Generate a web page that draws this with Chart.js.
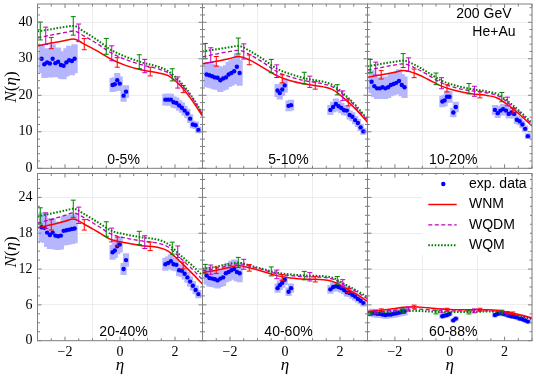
<!DOCTYPE html>
<html>
<head>
<meta charset="utf-8">
<script src="https://cdn.jsdelivr.net/npm/chart.js@4.4.0/dist/chart.umd.min.js"></script>
<style>
  html, body { margin: 0; padding: 0; background: #fff; }
  #wrap { position: relative; width: 536px; height: 377px; }
  #wrap canvas { position: absolute; left: 0; top: 0; }
</style>
</head>
<body>
<div id="wrap"></div>
<script>
'use strict';

// eta positions of the measured points
const etaBack = [-2.85, -2.75, -2.65, -2.55, -2.45, -2.35, -2.25, -2.15, -2.05, -1.95, -1.85, -1.75, -1.65];
const etaMid = [-0.27, -0.19, -0.1, -0.01, 0.13, 0.22];
const etaFwd = [1.65, 1.75, 1.85, 1.95, 2.05, 2.15, 2.25, 2.35, 2.45, 2.55, 2.65, 2.75, 2.85];

// eta grid of the model curves and where the model error bars sit
const etaModel = [-3, -2.5, -2, -1.7, -1.3, -0.8, -0.3, 0.2, 0.8, 1.4, 1.75, 2.2, 2.6, 3];
const etaBarsWNM = [-2.5, -1.3, -0.1, 1.1, 2.3];
const etaBarsWQDM = [-2.7, -1.5, -0.3, 0.9, 2.1];
const etaBarsWQM = [-2.9, -1.7, -0.5, 0.7, 1.9];

const centralities = ['0-5%', '5-10%', '10-20%', '20-40%', '40-60%', '60-88%'];

const xTicks = [-2, 0, 2];
const yTicksTop = [0, 10, 20, 30, 40];
const yTicksBottom = [0, 6, 12, 18, 24];

// exp. data, one row per centrality
const expBack = [
  [30.0, 28.5, 29.0, 28.7, 30.0, 28.8, 29.2, 28.3, 28.1, 29.0, 29.6, 29.4, 30.0],
  [25.7, 25.5, 25.2, 24.9, 24.8, 24.1, 24.6, 24.9, 25.7, 26.1, 26.6, 27.8, 26.1],
  [23.7, 22.5, 21.9, 21.9, 22.2, 21.9, 22.2, 22.8, 23.1, 23.4, 23.9, 22.8, 22.2],
  [19.0, 18.9, 18.1, 17.7, 18.1, 17.6, 17.5, 17.6, 18.4, 18.5, 18.6, 18.7, 18.8],
  [10.9, 10.5, 10.4, 10.3, 10.1, 10.4, 10.6, 11.3, 11.5, 11.8, 12.0, 11.5, 11.3],
  [4.7, 4.6, 4.5, 4.5, 4.4, 4.3, 4.4, 4.4, 4.5, 4.6, 4.7, 4.8, 4.9]
];
const expMid = [
  [22.8, 23.0, 24.1, 23.2, 19.9, 21.0],
  [21.3, 20.6, 21.6, 22.7, 17.1, 17.3],
  [18.3, 18.6, 19.6, 19.6, 15.3, 16.8],
  [14.8, 15.1, 15.8, 16.1, 12.0, 13.5],
  [8.8, 9.3, 9.7, 10.2, 8.2, 8.8],
  [4.1, 4.2, 4.3, 4.5, 3.4, 3.7]
];
const expFwd = [
  [18.8, 18.8, 18.8, 18.1, 17.9, 17.2, 16.6, 15.8, 15.0, 13.6, 12.0, 11.8, 10.5],
  [16.0, 16.8, 17.6, 17.0, 16.5, 15.9, 15.8, 14.6, 14.1, 13.2, 12.4, 11.2, 10.1],
  [16.0, 15.1, 15.8, 16.2, 15.8, 14.9, 15.3, 14.9, 13.3, 12.9, 12.0, 10.8, 8.8],
  [12.8, 13.0, 13.3, 12.8, 12.7, 11.8, 11.7, 11.2, 10.6, 9.9, 9.2, 8.5, 7.8],
  [8.6, 9.0, 9.1, 9.0, 8.8, 8.5, 8.1, 8.0, 7.7, 7.4, 7.0, 6.7, 6.3],
  [4.3, 4.5, 4.6, 4.5, 4.4, 4.2, 4.1, 4.0, 3.9, 3.7, 3.6, 3.4, 3.2]
];
// relative systematic uncertainty of the data (shaded boxes)
const sysBack = 0.13;
const sysMid = 0.08;
const sysFwd = 0.08;

// model curves on etaModel
const wnm = [
  [33.5, 34.3, 35.0, 35.4, 34.0, 32.0, 29.8, 28.2, 26.9, 26.1, 25.4, 22.6, 18.8, 14.3],
  [28.6, 29.3, 30.1, 30.6, 29.7, 27.6, 25.4, 24.0, 23.0, 22.3, 21.5, 18.8, 16.0, 12.6],
  [24.9, 25.6, 26.3, 26.8, 26.1, 24.4, 22.5, 21.3, 20.4, 19.9, 19.2, 16.9, 14.4, 11.6],
  [18.9, 19.4, 20.0, 20.4, 19.5, 18.2, 16.9, 16.4, 15.9, 15.6, 15.0, 13.2, 11.4, 9.5],
  [11.4, 11.8, 12.3, 12.6, 12.2, 11.6, 10.9, 10.5, 10.3, 10.2, 9.9, 8.8, 7.8, 6.6],
  [4.9, 5.1, 5.4, 5.6, 5.7, 5.5, 5.3, 5.2, 5.2, 5.2, 5.1, 4.7, 4.3, 3.8]
];
const wqdm = [
  [35.7, 36.5, 37.2, 37.6, 36.2, 34.0, 31.5, 29.8, 28.3, 27.2, 26.1, 23.2, 19.5, 14.8],
  [30.5, 31.3, 32.0, 32.3, 31.2, 29.0, 26.5, 25.0, 23.9, 23.1, 22.2, 19.6, 16.6, 13.1],
  [26.9, 27.6, 28.3, 28.6, 27.6, 25.6, 23.4, 22.1, 21.2, 20.6, 19.9, 17.5, 14.9, 12.1],
  [19.7, 20.3, 21.0, 21.4, 20.6, 19.2, 17.8, 17.2, 16.7, 16.3, 15.7, 13.8, 12.1, 10.2],
  [11.7, 12.1, 12.6, 12.9, 12.5, 11.9, 11.2, 10.9, 10.7, 10.6, 10.3, 9.2, 8.2, 7.0],
  [4.7, 4.9, 5.1, 5.3, 5.3, 5.2, 5.0, 5.0, 5.0, 5.0, 4.9, 4.6, 4.2, 3.7]
];
const wqm = [
  [37.5, 38.1, 38.7, 39.0, 37.4, 35.0, 32.3, 30.6, 29.0, 27.8, 26.6, 23.6, 19.8, 15.0],
  [32.0, 32.6, 33.2, 33.5, 32.2, 29.9, 27.3, 25.8, 24.5, 23.7, 22.7, 20.0, 17.0, 13.4],
  [27.9, 28.6, 29.2, 29.5, 28.4, 26.3, 24.0, 22.7, 21.7, 21.0, 20.3, 17.9, 15.3, 12.4],
  [20.8, 21.3, 21.8, 22.1, 21.2, 19.8, 18.4, 17.8, 17.3, 16.9, 16.2, 14.3, 12.7, 10.9],
  [12.0, 12.4, 12.9, 13.1, 12.6, 12.0, 11.4, 11.1, 10.9, 10.8, 10.5, 9.4, 8.4, 7.3],
  [4.5, 4.7, 4.9, 5.0, 5.0, 4.9, 4.8, 4.8, 4.8, 4.9, 4.8, 4.5, 4.1, 3.6]
];

// model values at the error bar positions
const wnmBars = [
  [34.3, 34.0, 29.0, 26.5, 21.7],
  [29.3, 29.7, 24.5, 22.7, 17.9],
  [25.6, 26.0, 21.9, 20.2, 15.8],
  [19.4, 19.4, 16.6, 15.8, 12.6],
  [11.8, 12.2, 10.6, 10.3, 8.4],
  [5.1, 5.7, 5.2, 5.2, 4.6]
];
const wqdmBars = [
  [36.3, 37.1, 31.5, 28.0, 23.5],
  [31.0, 32.0, 26.6, 23.7, 19.9],
  [27.3, 28.4, 23.3, 21.1, 18.3],
  [20.1, 21.0, 17.7, 16.5, 14.9],
  [11.9, 12.8, 11.1, 10.7, 9.6],
  [4.8, 5.3, 5.0, 5.0, 4.6]
];
const wqmBars = [
  [37.6, 39.0, 33.4, 29.2, 25.6],
  [32.1, 33.5, 28.0, 24.7, 21.5],
  [28.0, 29.5, 24.5, 21.8, 19.5],
  [20.9, 22.1, 18.7, 17.2, 15.5],
  [12.0, 13.1, 11.6, 10.9, 10.1],
  [4.5, 5.0, 4.8, 4.8, 4.8]
];
const relErrWNM = 0.045;
const relErrWQDM = 0.065;
const relErrWQM = 0.065;

// page layout
const W = 536, H = 377;
const colLeft = [37.5, 202.5, 367.5];
const colWidth = 165;
const rowTop = [1.8, 173.5];
const rowBottom = [168.3, 340.7];
const yMax = [45, 28];
const yMinor = [2, 1.5];
const xMinor = 0.5;

const RED = '#ff0000', MAGENTA = '#c000c0', GREEN = '#008000', BLUE = '#0000ff';
const BAND = '#b6b6ff';
const FRAME = '#808080';
const GRID = '#e8e8e8';
const SERIF = '"Liberation Serif", "DejaVu Serif", serif';
const SANS = '"Liberation Sans", Arial, sans-serif';

const wrap = document.getElementById('wrap');

function pts(xs, ys) {
  return xs.map((x, k) => ({ x: x, y: ys[k] }));
}

function boxes(xs, ys, s) {
  return xs.map((x, k) => ({ x: x, y: [ys[k] * (1 - s), ys[k] * (1 + s)] }));
}

function bars(xs, ys, rel) {
  return xs.map((x, k) => ({ x: x, y: ys[k], e: ys[k] * rel }));
}

function tickLabel(v) {
  return v < 0 ? '\u2212' + Math.abs(v) : String(v);
}

// text with italic and upright pieces, centred on (cx, cy)
function mathText(ctx, parts, cx, cy, size) {
  let total = 0;
  parts.forEach(p => {
    ctx.font = (p[1] ? 'italic ' : '') + size + 'px ' + SERIF;
    total += ctx.measureText(p[0]).width;
  });
  let x = cx - total / 2;
  ctx.textAlign = 'left';
  ctx.textBaseline = 'middle';
  parts.forEach(p => {
    ctx.font = (p[1] ? 'italic ' : '') + size + 'px ' + SERIF;
    ctx.fillText(p[0], x, cy);
    x += ctx.measureText(p[0]).width;
  });
}

function makePanel(i) {
  const col = i % 3, row = Math.floor(i / 3);
  const left = colLeft[col], right = left + colWidth;
  const top = rowTop[row], bottom = rowBottom[row];
  const yTicks = row === 0 ? yTicksTop : yTicksBottom;

  const canvas = document.createElement('canvas');
  canvas.width = W;
  canvas.height = H;
  wrap.appendChild(canvas);

  const decor = {
    id: 'decor' + i,
    afterDatasetsDraw(chart) {
      const { ctx, chartArea: a, scales: { x, y } } = chart;
      // model error bars
      chart.data.datasets.forEach(ds => {
        if (!ds.errBars) return;
        ctx.save();
        ctx.strokeStyle = ds.borderColor;
        ctx.lineWidth = 1;
        ds.errBars.forEach(b => {
          const px = x.getPixelForValue(b.x);
          const hi = y.getPixelForValue(b.y + b.e);
          const lo = y.getPixelForValue(b.y - b.e);
          ctx.beginPath();
          ctx.moveTo(px, hi); ctx.lineTo(px, lo);
          ctx.moveTo(px - 2.5, hi); ctx.lineTo(px + 2.5, hi);
          ctx.moveTo(px - 2.5, lo); ctx.lineTo(px + 2.5, lo);
          ctx.stroke();
        });
        ctx.restore();
      });

      // frame and inward ticks
      ctx.save();
      ctx.strokeStyle = FRAME;
      ctx.lineWidth = 1;
      ctx.strokeRect(a.left, a.top, a.right - a.left, a.bottom - a.top);
      ctx.beginPath();
      for (let v = -3; v <= 3.001; v += xMinor) {
        const px = x.getPixelForValue(v);
        const len = xTicks.includes(Math.round(v * 10) / 10) ? 4 : 2.5;
        ctx.moveTo(px, a.bottom); ctx.lineTo(px, a.bottom - len);
        ctx.moveTo(px, a.top); ctx.lineTo(px, a.top + len);
      }
      for (let v = 0; v <= yMax[row] + 0.001; v += yMinor[row]) {
        const py = y.getPixelForValue(v);
        const len = yTicks.includes(Math.round(v * 10) / 10) ? 4 : 2.5;
        ctx.moveTo(a.left, py); ctx.lineTo(a.left + len, py);
        ctx.moveTo(a.right, py); ctx.lineTo(a.right - len, py);
      }
      ctx.stroke();
      ctx.restore();
    },
    afterDraw(chart) {
      const { ctx, chartArea: a } = chart;
      ctx.save();
      ctx.fillStyle = '#000';
      ctx.font = '14px ' + SANS;
      ctx.textAlign = 'center';
      ctx.textBaseline = 'middle';
      ctx.fillText(centralities[i], (a.left + a.right) / 2 + 3.5, a.bottom - (row === 0 ? 8.5 : 9));

      if (i === 2) {
        ctx.textAlign = 'right';
        ctx.fillText('200 GeV', 511.5, 14);
        ctx.fillText('He+Au', 515.5, 32.5);
      }

      if (i === 5) {
        ctx.fillStyle = '#fff';
        ctx.fillRect(422, 175, 108, 80);
        ctx.fillStyle = BLUE;
        ctx.beginPath();
        ctx.arc(443.3, 184, 2.2, 0, Math.PI * 2);
        ctx.fill();
        const rows = [[RED, [], 1.5, 204.5], [MAGENTA, [4, 2.5], 1.3, 224.8], [GREEN, [1.6, 1.6], 2, 245.2]];
        rows.forEach(r => {
          ctx.strokeStyle = r[0];
          ctx.setLineDash(r[1]);
          ctx.lineWidth = r[2];
          ctx.beginPath();
          ctx.moveTo(428.3, r[3]); ctx.lineTo(456.7, r[3]);
          ctx.stroke();
        });
        ctx.setLineDash([]);
        ctx.fillStyle = '#000';
        ctx.textAlign = 'left';
        ctx.fillText('exp. data', 469, 184.5);
        ctx.fillText('WNM', 469, 204.5);
        ctx.fillText('WQDM', 469, 224.8);
        ctx.fillText('WQM', 469, 245.5);
      }

      ctx.fillStyle = '#000';
      if (col === 0) {
        ctx.save();
        ctx.translate(12, row === 0 ? 87 : 252);
        ctx.rotate(-Math.PI / 2);
        mathText(ctx, [['N', true], ['(', false], ['\u03b7', true], [')', false]], 0, 0, 17);
        ctx.restore();
      }
      if (row === 1) {
        mathText(ctx, [['\u03b7', true]], (a.left + a.right) / 2, 366, 17);
      }
      ctx.restore();
    }
  };

  const datasets = [
    {
      type: 'line', label: 'WNM',
      data: pts(etaModel, wnm[i]),
      errBars: bars(etaBarsWNM, wnmBars[i], relErrWNM),
      borderColor: RED, borderWidth: 1.5, pointRadius: 0, showLine: true,
      cubicInterpolationMode: 'monotone'
    },
    {
      type: 'line', label: 'WQDM',
      data: pts(etaModel, wqdm[i]),
      errBars: bars(etaBarsWQDM, wqdmBars[i], relErrWQDM),
      borderColor: MAGENTA, borderWidth: 1.3, borderDash: [4, 2.5], pointRadius: 0, showLine: true,
      cubicInterpolationMode: 'monotone'
    },
    {
      type: 'line', label: 'WQM',
      data: pts(etaModel, wqm[i]),
      errBars: bars(etaBarsWQM, wqmBars[i], relErrWQM),
      borderColor: GREEN, borderWidth: 2, borderDash: [1.6, 1.6], pointRadius: 0, showLine: true,
      cubicInterpolationMode: 'monotone'
    },
    {
      type: 'scatter', label: 'exp. data',
      data: pts(etaBack, expBack[i]).concat(pts(etaMid, expMid[i]), pts(etaFwd, expFwd[i])),
      backgroundColor: BLUE, borderWidth: 0, pointRadius: 2.2, showLine: false
    },
    {
      type: 'bar', label: 'sys',
      data: boxes(etaBack, expBack[i], sysBack).concat(
        boxes(etaMid, expMid[i], sysMid), boxes(etaFwd, expFwd[i], sysFwd)),
      backgroundColor: BAND, borderWidth: 0, barThickness: 5.5, grouped: false
    }
  ];

  new Chart(canvas, {
    type: 'scatter',
    data: { datasets: datasets },
    options: {
      responsive: false,
      animation: false,
      events: [],
      // the axes take up the whole margin so the plot area lands on the panel box
      layout: { padding: { left: 0, top: top, right: W - right, bottom: 0 } },
      plugins: { legend: { display: false }, tooltip: { enabled: false } },
      scales: {
        x: {
          type: 'linear', min: -3, max: 3, offset: false,
          afterBuildTicks: s => { s.ticks = xTicks.map(v => ({ value: v })); },
          afterFit: s => { s.height = H - bottom; s.paddingLeft = 0; s.paddingRight = 0; s.paddingTop = 0; s.paddingBottom = 0; },
          grid: { color: GRID, lineWidth: 0.8, drawTicks: false },
          border: { display: false },
          ticks: {
            display: row === 1, padding: 3, color: '#000',
            font: { family: SERIF, size: 14 },
            callback: v => tickLabel(v)
          }
        },
        y: {
          type: 'linear', min: 0, max: yMax[row],
          afterBuildTicks: s => { s.ticks = yTicks.map(v => ({ value: v })); },
          afterFit: s => { s.width = left; s.paddingLeft = 0; s.paddingRight = 0; s.paddingTop = 0; s.paddingBottom = 0; },
          grid: { color: GRID, lineWidth: 0.8, drawTicks: false },
          border: { display: false },
          ticks: {
            display: col === 0, padding: 5, color: '#000',
            font: { family: SERIF, size: 14 },
            callback: v => tickLabel(v)
          }
        }
      }
    },
    plugins: [decor]
  });
}

for (let i = 0; i < 6; i++) makePanel(i);
</script>
</body>
</html>
